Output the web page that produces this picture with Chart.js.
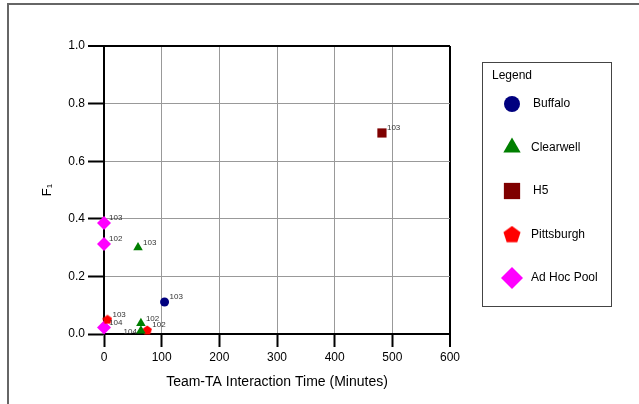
<!DOCTYPE html>
<html>
<head>
<meta charset="utf-8">
<script src="https://cdn.jsdelivr.net/npm/chart.js@4"></script>
<style>
  html, body { margin: 0; padding: 0; background: #fff; }
  #wrap { width: 639px; height: 404px; position: relative; }
</style>
</head>
<body>
<div id="wrap"><canvas id="chart" width="639" height="404"></canvas></div>
<script>
// Données
const seriesNames = ['Buffalo', 'Clearwell', 'H5', 'Pittsburgh', 'Ad Hoc Pool'];
const seriesColors = ['#00007f', '#007f00', '#7f0000', '#ff0000', '#ff00ff'];

const buffaloX = [105];
const buffaloY = [0.111];
const buffaloLabels = ['103'];

const clearwellX = [59, 64, 64];
const clearwellY = [0.30, 0.037, 0.011];
const clearwellLabels = ['103', '102', '104'];

const h5X = [482];
const h5Y = [0.698];
const h5Labels = ['103'];

const pittsburghX = [6, 75];
const pittsburghY = [0.051, 0.014];
const pittsburghLabels = ['103', '102'];

const adHocX = [0, 0, 0];
const adHocY = [0.385, 0.3125, 0.023];
const adHocLabels = ['103', '102', '104'];

const xTicks = [0, 100, 200, 300, 400, 500, 600];
const yTicks = [0.0, 0.2, 0.4, 0.6, 0.8, 1.0];

// Pentagone (pas de style natif dans Chart.js)
function makePentagon(size, color) {
  const c = document.createElement('canvas');
  c.width = size; c.height = size;
  const g = c.getContext('2d');
  const r = size / 2;
  g.beginPath();
  for (let i = 0; i < 5; i++) {
    const a = -Math.PI / 2 + i * 2 * Math.PI / 5;
    const px = r + r * Math.cos(a);
    const py = r + 0.5 + r * Math.sin(a);
    if (i === 0) g.moveTo(px, py); else g.lineTo(px, py);
  }
  g.closePath();
  g.fillStyle = color;
  g.fill();
  return c;
}

const pentSmall = makePentagon(10, seriesColors[3]);
const pentBig = makePentagon(18, seriesColors[3]);

const plotStyles = [
  { pointStyle: 'circle', radius: 4.5 },
  { pointStyle: 'triangle', radius: 5.5 },
  { pointStyle: 'rect', radius: 6.5 },
  { pointStyle: pentSmall, radius: 5 },
  { pointStyle: 'rectRot', radius: 7 }
];
const legendStyles = [
  { pointStyle: 'circle', radius: 8 },
  { pointStyle: 'triangle', radius: 10 },
  { pointStyle: 'rect', radius: 11.5 },
  { pointStyle: pentBig, radius: 9 },
  { pointStyle: 'rectRot', radius: 11 }
];

function toPoints(xs, ys, labels) {
  return xs.map((x, i) => ({ x: x, y: ys[i], label: labels[i] }));
}

const allData = [
  toPoints(buffaloX, buffaloY, buffaloLabels),
  toPoints(clearwellX, clearwellY, clearwellLabels),
  toPoints(h5X, h5Y, h5Labels),
  toPoints(pittsburghX, pittsburghY, pittsburghLabels),
  toPoints(adHocX, adHocY, adHocLabels)
];

const FONT = '"Liberation Sans", Arial, sans-serif';

// Cadre extérieur + légende + étiquettes des points
const decorPlugin = {
  id: 'decor',
  beforeDraw(chart) {
    const ctx = chart.ctx;
    ctx.save();
    ctx.strokeStyle = '#666';
    ctx.lineWidth = 2;
    ctx.beginPath();
    ctx.moveTo(8, 404);
    ctx.lineTo(8, 4);
    ctx.lineTo(639, 4);
    ctx.stroke();
    ctx.restore();
  },
  afterDatasetsDraw(chart) {
    const ctx = chart.ctx;
    ctx.save();
    ctx.font = '8px ' + FONT;
    ctx.fillStyle = '#333';
    ctx.textBaseline = 'middle';
    chart.data.datasets.forEach((ds, di) => {
      const meta = chart.getDatasetMeta(di);
      meta.data.forEach((el, i) => {
        const lab = ds.data[i].label;
        // seul le 104 de Clearwell est à gauche
        if (di === 1 && lab === '104') {
          ctx.textAlign = 'right';
          ctx.fillText(lab, el.x - 4, el.y + 1);
        } else {
          ctx.textAlign = 'left';
          ctx.fillText(lab, el.x + 5, el.y - 5);
        }
      });
    });
    ctx.restore();
  },
  afterDraw(chart) {
    const ctx = chart.ctx;
    ctx.save();
    ctx.strokeStyle = '#444';
    ctx.lineWidth = 1;
    ctx.strokeRect(482.5, 62.5, 129, 244);
    ctx.fillStyle = '#000';
    ctx.font = '12px ' + FONT;
    ctx.textAlign = 'left';
    ctx.textBaseline = 'middle';
    ctx.fillText('Legend', 492, 76);
    seriesNames.forEach((name, i) => {
      const y = 104 + i * 43.5;
      const st = legendStyles[i];
      ctx.fillStyle = seriesColors[i];
      ctx.strokeStyle = seriesColors[i];
      Chart.helpers.drawPoint(ctx, {
        pointStyle: st.pointStyle, radius: st.radius, rotation: 0, borderWidth: 0
      }, 512, y);
      ctx.fillStyle = '#000';
      ctx.font = '12px ' + FONT;
      ctx.fillText(name, i === 2 ? 533 : (i === 0 ? 533 : 531), y);
    });
    ctx.restore();
  }
};

const isEdge = (ctx) => ctx.tick && (ctx.tick.value === 600 || ctx.tick.value === 1);
const gridColor = (ctx) => isEdge(ctx) ? '#000' : '#999';
const gridWidth = (ctx) => isEdge(ctx) ? 2 : 1;

new Chart(document.getElementById('chart'), {
  type: 'scatter',
  data: {
    datasets: allData.map((pts, i) => ({
      label: seriesNames[i],
      data: pts,
      backgroundColor: seriesColors[i],
      borderColor: seriesColors[i],
      borderWidth: 0,
      pointStyle: plotStyles[i].pointStyle,
      pointRadius: plotStyles[i].radius,
      pointHoverRadius: plotStyles[i].radius,
      clip: false
    }))
  },
  options: {
    responsive: false,
    animation: false,
    layout: { padding: { left: 0, top: 46, right: 189, bottom: 0 } },
    plugins: {
      legend: { display: false },
      tooltip: { enabled: false }
    },
    scales: {
      x: {
        type: 'linear',
        min: 0,
        max: 600,
        afterBuildTicks(scale) { scale.ticks = xTicks.map(v => ({ value: v })); },
        afterFit(scale) { scale.height = 70; },
        grid: { color: gridColor, lineWidth: gridWidth, tickColor: '#000', tickWidth: 2, tickLength: 13 },
        border: { color: '#000', width: 2 },
        ticks: { color: '#000', font: { family: FONT, size: 12 }, padding: 3, maxRotation: 0 },
        title: {
          display: true, text: 'Team-TA Interaction Time (Minutes)', color: '#000',
          font: { family: FONT, size: 14 }, padding: { top: 0, bottom: 13 }
        }
      },
      y: {
        type: 'linear',
        min: 0,
        max: 1,
        afterBuildTicks(scale) { scale.ticks = yTicks.map(v => ({ value: v })); },
        afterFit(scale) { scale.width = 104; },
        grid: { color: gridColor, lineWidth: gridWidth, tickColor: '#000', tickWidth: 2, tickLength: 16 },
        border: { color: '#000', width: 2 },
        ticks: {
          color: '#000', font: { family: FONT, size: 12 }, padding: 3,
          callback: (v) => Number(v).toFixed(1)
        },
        title: {
          display: true, text: 'F\u2081', color: '#000',
          font: { family: FONT, size: 13 }, padding: { top: 40, bottom: 0 }
        }
      }
    }
  },
  plugins: [decorPlugin]
});
</script>
</body>
</html>
